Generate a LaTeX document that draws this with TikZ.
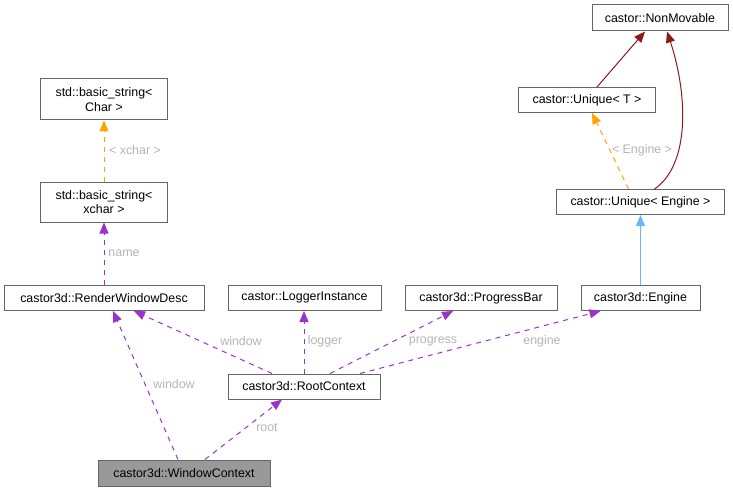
\documentclass[tikz,border=0pt]{standalone}
\usepackage{fontspec}
\setmainfont{Liberation Sans}
\usetikzlibrary{arrows.meta}
\definecolor{dred}{HTML}{8B1A1A}
\definecolor{dorange}{HTML}{FFA500}
\definecolor{dpurple}{HTML}{9A32CD}
\definecolor{dblue}{HTML}{63B8FF}
\definecolor{boxline}{HTML}{666666}
\definecolor{lbl}{HTML}{B4B4B4}
\tikzset{
  cls/.style={draw=boxline, fill=white, line width=1pt, inner sep=0pt, align=center, font=\fontsize{12.4}{14.5}\selectfont},
  lab/.style={text=lbl, font=\fontsize{12.4}{14.5}\selectfont, inner sep=0pt},
  tip/.style={-{Triangle[length=11pt,width=9pt]}},
  inh/.style={tip, draw=dred, line width=1pt},
  tmpl/.style={tip, draw=dorange, dash pattern=on 5pt off 5pt, line width=1pt},
  usage/.style={tip, draw=dpurple, dash pattern=on 5pt off 5pt, line width=1pt},
  pub/.style={tip, draw=dblue, line width=1pt}
}
\begin{document}
\begin{tikzpicture}[x=1pt,y=-1pt]
\useasboundingbox (0,0) rectangle (733,492);
\node[cls, minimum width=136pt, minimum height=26pt] (nm) at (660,18) {castor::NonMovable};
\node[cls, minimum width=137pt, minimum height=25pt] (ut) at (587,100) {castor::Unique< T >};
\node[cls, minimum width=168pt, minimum height=25pt] (ue) at (640.5,202) {castor::Unique< Engine >};
\node[cls, minimum width=127pt, minimum height=41pt] (bsc) at (104,99.5) {std::basic\_string<\\Char >};
\node[cls, minimum width=127pt, minimum height=40pt] (bsx) at (104,202) {std::basic\_string<\\xchar >};
\node[cls, minimum width=200pt, minimum height=25pt] (rwd) at (104,298) {castor3d::RenderWindowDesc};
\node[cls, minimum width=153pt, minimum height=25pt] (li) at (304.5,298) {castor::LoggerInstance};
\node[cls, minimum width=152pt, minimum height=25pt] (pb) at (481,298) {castor3d::ProgressBar};
\node[cls, minimum width=119pt, minimum height=25pt] (en) at (640.5,298) {castor3d::Engine};
\node[cls, minimum width=152pt, minimum height=25pt] (rc) at (304,386.5) {castor3d::RootContext};
\node[cls, fill={rgb,255:red,153;green,153;blue,153}, minimum width=172pt, minimum height=26pt] (wc) at (184,473) {castor3d::WindowContext};

% inheritance
\draw[inh] ([xshift=10pt]ut.north) -- ([xshift=-15pt]nm.south);
\draw[inh] ([xshift=14pt]ue.north) .. controls (690,165) and (688,95) .. ([xshift=7pt]nm.south);
\draw[tmpl] ([xshift=-12pt]ue.north) -- ([xshift=5pt]ut.south);
\node[lab] (l1) at (642,150) {< Engine >};
\draw[pub] (en.north) -- (ue.south);
\draw[tmpl] (bsx.north) -- (bsc.south);
\node[lab] (l2) at (135,150) {< xchar >};
\draw[usage] (rwd.north) -- (bsx.south);
\node[lab] (l3) at (124,253) {name};
% root context usages
\draw[usage] ([xshift=-32pt]rc.north) -- ([xshift=30pt]rwd.south);
\node[lab] (l4) at (241,341) {window};
\draw[usage] (rc.north) -- (li.south -| rc.north);
\node[lab] (l5) at (325,341) {logger};
\draw[usage] ([xshift=26pt]rc.north) -- ([xshift=-28pt]pb.south);
\node[lab] (l6) at (433,341) {progress};
\draw[usage] ([xshift=56pt]rc.north) -- ([xshift=-40pt]en.south);
\node[lab] (l7) at (542,341) {engine};
% window context usages
\draw[usage] ([xshift=-6pt]wc.north) -- ([xshift=9pt]rwd.south);
\node[lab] (l8) at (174,384) {window};
\draw[usage] ([xshift=21pt]wc.north) -- ([xshift=-22pt]rc.south);
\node[lab] (l9) at (267,428) {root};
\end{tikzpicture}
\end{document}
